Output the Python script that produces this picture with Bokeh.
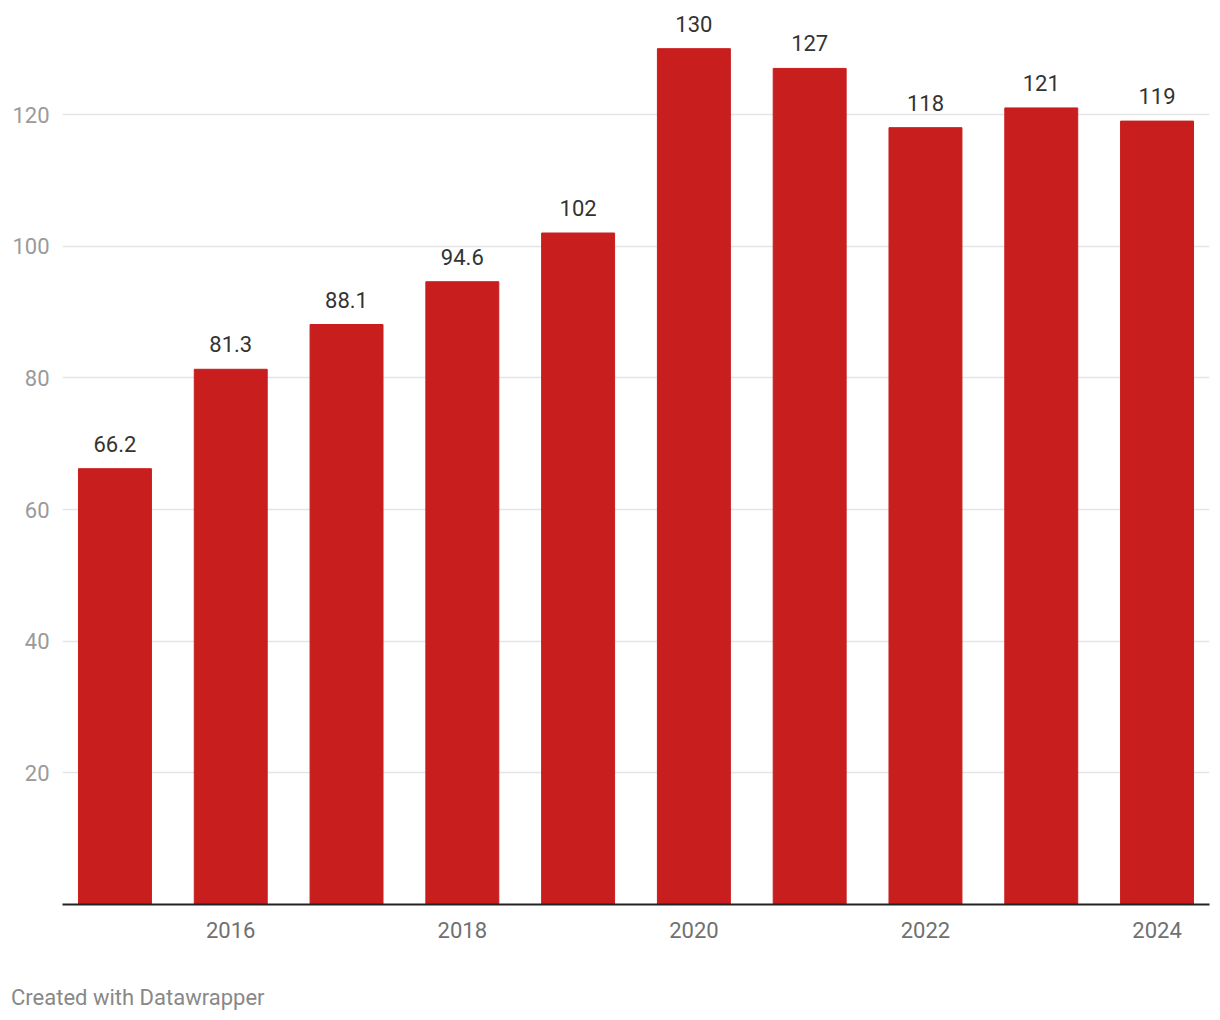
from bokeh.plotting import figure
from bokeh.layouts import column
from bokeh.models import ColumnDataSource, FixedTicker, Div
from bokeh.core.properties import value
from bokeh.embed import file_html
from bokeh.resources import INLINE

years = [2015, 2016, 2017, 2018, 2019, 2020, 2021, 2022, 2023, 2024]
values = [66.2, 81.3, 88.1, 94.6, 102, 130, 127, 118, 121, 119]
labels = ["66.2", "81.3", "88.1", "94.6", "102", "130", "127", "118", "121", "119"]
x_ticks = [2016, 2018, 2020, 2022, 2024]
y_ticks = [20, 40, 60, 80, 100, 120]
footer_text = "Created with Datawrapper"

src = ColumnDataSource(dict(x=years, top=values, lab=labels))

p = figure(width=1211, height=956, output_backend="svg", toolbar_location=None,
           x_range=(2014.547, 2024.453), y_range=(0, 135.8),
           min_border_left=62, min_border_right=2, min_border_top=10, min_border_bottom=52)
p.outline_line_color = None
p.background_fill_color = "white"
p.border_fill_color = "white"

p.vbar(x="x", top="top", width=0.63, bottom=0, source=src, color="#c91e1e")
p.text(x="x", y="top", text="lab", source=src, text_align="center", text_baseline="bottom",
       y_offset=-17, text_font=value("Roboto"), text_font_size="22px", text_color="#333333")

p.xgrid.grid_line_color = None
p.ygrid.grid_line_color = "#e5e5e5"
p.ygrid.grid_line_width = 1.5
p.ygrid.ticker = FixedTicker(ticks=y_ticks)

xa = p.xaxis[0]
xa.ticker = FixedTicker(ticks=x_ticks)
xa.axis_line_color = "#222222"
xa.axis_line_width = 2
xa.major_tick_line_color = None
xa.minor_tick_line_color = None
xa.major_tick_out = 0
xa.major_tick_in = 0
xa.major_label_standoff = 17
xa.major_label_text_font = "Roboto"
xa.major_label_text_font_size = "22px"
xa.major_label_text_color = "#707070"

ya = p.yaxis[0]
ya.ticker = FixedTicker(ticks=y_ticks)
ya.axis_line_color = None
ya.major_tick_line_color = None
ya.minor_tick_line_color = None
ya.major_tick_out = 0
ya.major_tick_in = 0
ya.major_label_standoff = 13
ya.major_label_text_font = "Roboto"
ya.major_label_text_font_size = "22px"
ya.major_label_text_color = "#9a9a9a"

footer = Div(text=footer_text, width=1211, height=56,
             styles={"font-family": "Roboto", "font-size": "22px", "color": "#888888",
                     "padding-left": "6px", "padding-top": "24px", "line-height": "26px",
                     "box-sizing": "border-box"})

layout = column(p, footer, spacing=0)
open("out.html", "w").write(file_html(layout, INLINE))
